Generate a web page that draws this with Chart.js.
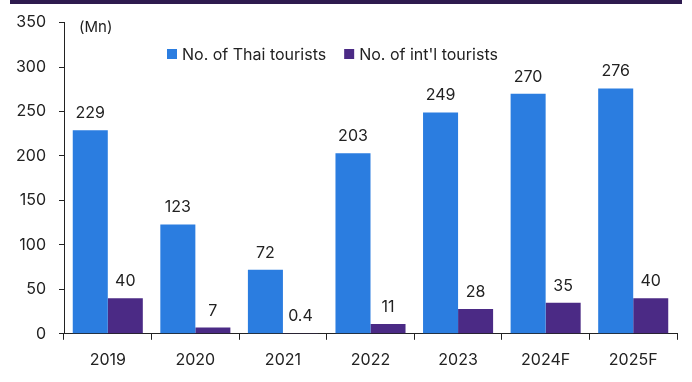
<!DOCTYPE html>
<html>
<head>
<meta charset="utf-8">
<script src="https://cdn.jsdelivr.net/npm/chart.js@4"></script>
<style>
  html, body { margin: 0; padding: 0; background: #fff; }
  #wrap { position: relative; width: 692px; height: 382px; }
  #band { position: absolute; left: 10px; top: 0; width: 672px; height: 4px; background: #2e1b4f; }
</style>
</head>
<body>
<div id="wrap">
  <div id="band"></div>
  <canvas id="grafico" width="692" height="382"></canvas>
</div>
<script>
const anos = ['2019', '2020', '2021', '2022', '2023', '2024F', '2025F'];
const turistasThai = [229, 123, 72, 203, 249, 270, 276];
const turistasIntl = [40, 7, 0.4, 11, 28, 35, 40];
const nomesSeries = ['No. of Thai tourists', "No. of int'l tourists"];
const unidade = '(Mn)';

const fonte = 'Inter, "DejaVu Sans", sans-serif';

// rótulos de valor em cima das barras
const rotulos = {
  id: 'rotulos',
  afterDatasetsDraw(chart) {
    const ctx = chart.ctx;
    ctx.save();
    ctx.font = '16px ' + fonte;
    ctx.fillStyle = '#222';
    ctx.textAlign = 'center';
    ctx.textBaseline = 'alphabetic';
    chart.data.datasets.forEach((ds, i) => {
      chart.getDatasetMeta(i).data.forEach((bar, j) => {
        ctx.fillText(String(ds.data[j]), bar.x, bar.y - 12);
      });
    });
    // unidade
    ctx.font = '15px ' + fonte;
    ctx.textAlign = 'left';
    ctx.fillText(unidade, 79, 32);
    ctx.restore();
  }
};

// legenda desenhada à mão dentro da área
const legenda = {
  id: 'legenda',
  afterDraw(chart) {
    const ctx = chart.ctx;
    ctx.save();
    ctx.font = '16px ' + fonte;
    ctx.textBaseline = 'middle';
    let x = 167;
    const y = 54;
    chart.data.datasets.forEach((ds) => {
      ctx.fillStyle = ds.backgroundColor;
      ctx.fillRect(x, y - 5, 10, 10);
      ctx.fillStyle = '#222';
      ctx.textAlign = 'left';
      ctx.fillText(ds.label, x + 15, y + 1);
      x += 15 + ctx.measureText(ds.label).width + 18;
    });
    ctx.restore();
  }
};

const ctx = document.getElementById('grafico').getContext('2d');
new Chart(ctx, {
  type: 'bar',
  data: {
    labels: anos,
    datasets: [
      { label: nomesSeries[0], data: turistasThai, backgroundColor: '#2b7de0', borderWidth: 0 },
      { label: nomesSeries[1], data: turistasIntl, backgroundColor: '#4b2a85', borderWidth: 0 }
    ]
  },
  options: {
    responsive: false,
    animation: false,
    layout: { padding: { top: 15, right: 15, bottom: 1, left: 0 } },
    plugins: { legend: { display: false }, tooltip: { enabled: false } },
    datasets: { bar: { categoryPercentage: 0.8, barPercentage: 1.0 } },
    scales: {
      x: {
        grid: { display: true, drawOnChartArea: false, drawTicks: true, tickLength: 6, color: '#222', offset: true },
        border: { display: true, color: '#222', width: 1 },
        ticks: { color: '#222', font: { size: 16, family: fonte }, padding: 11 }
      },
      y: {
        min: 0, max: 350,
        afterFit(axis) { axis.width = 64; },
        grid: { display: true, drawOnChartArea: false, drawTicks: true, tickLength: 5, color: '#222' },
        border: { display: true, color: '#222', width: 1 },
        ticks: { stepSize: 50, color: '#222', font: { size: 16, family: fonte }, padding: 13 }
      }
    }
  },
  plugins: [rotulos, legenda]
});
</script>
</body>
</html>
